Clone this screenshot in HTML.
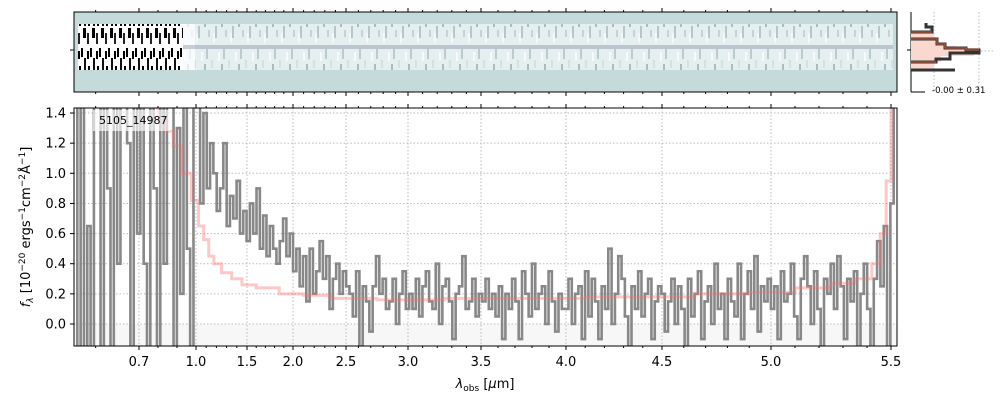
<!DOCTYPE html>
<html><head><meta charset="utf-8"><style>
body{margin:0;background:#fff;font-family:"Liberation Sans","DejaVu Sans",sans-serif}
svg text{font-family:"DejaVu Sans","Liberation Sans",sans-serif}
</style></head><body>
<svg id="c" width="1000" height="400" xmlns="http://www.w3.org/2000/svg">
<defs>
<clipPath id="cp"><rect x="74" y="108" width="823" height="238"/></clipPath>
<pattern id="noise" width="17" height="46" patternUnits="userSpaceOnUse">
<rect width="17" height="46" fill="#e6eff0"/>
<rect x="2" y="3" width="2" height="10" fill="#b9ccd0"/><rect x="7" y="14" width="2" height="8" fill="#d3e1e3"/>
<rect x="11" y="26" width="2" height="12" fill="#b4c7cc"/><rect x="14" y="6" width="2" height="9" fill="#f7fafa"/>
<rect x="4" y="30" width="2" height="7" fill="#c3d4d7"/><rect x="9" y="33" width="2" height="10" fill="#f5f8f8"/>
<rect x="0" y="18" width="2" height="9" fill="#a9bec3"/>
</pattern>
<pattern id="noise2" width="9" height="46" patternUnits="userSpaceOnUse">
<rect width="9" height="46" fill="#fff"/>
<rect x="0" y="2" width="2" height="9" fill="#000"/><rect x="3" y="12" width="2" height="14" fill="#111"/>
<rect x="6" y="5" width="2" height="8" fill="#000"/><rect x="2" y="28" width="3" height="10" fill="#000"/>
<rect x="6" y="33" width="2" height="11" fill="#222"/><rect x="7" y="20" width="2" height="6" fill="#000"/>
</pattern>
</defs>
<rect x="74" y="12" width="823" height="80" fill="#c5dbdb" stroke="#000"/>
<rect x="78" y="24" width="815" height="46" fill="url(#noise)"/>
<rect x="78" y="24" width="105" height="46" fill="url(#noise2)"/>
<rect x="183" y="24" width="12" height="46" fill="#fff" opacity="0.7"/>
<rect x="183" y="45" width="710" height="4" fill="#6a7a8e" opacity="0.35"/>
<line x1="70" y1="50" x2="74" y2="50" stroke="#000"/>
<g id="topticks"></g>
<g>
<line x1="911" y1="12" x2="911" y2="92" stroke="#000"/>
<line x1="911" y1="92" x2="925" y2="92" stroke="#000"/>
<line x1="907" y1="50" x2="911" y2="50" stroke="#000"/>
<line x1="934" y1="12" x2="934" y2="92" stroke="#bbb" stroke-dasharray="1.5,2"/>
<line x1="979" y1="12" x2="979" y2="92" stroke="#bbb" stroke-dasharray="1.5,2"/>
<line x1="911" y1="51" x2="993" y2="51" stroke="#bbb" stroke-dasharray="1.5,2"/>
<path d="M911,32 L929,32 L929,27 L934,27 L934,42 L937,42 L937,46 L957,46 L957,48 L979,48 L979,53 L974,53 L974,56 L941,56 L941,62 L934,62 L934,70 L911,70 Z" fill="#fbd8cf" stroke="none"/>
<path d="M926,23 L926,27 L932,27 L932,32 L911,32 M911,39 L937,39 L937,44 L945,44 L945,48 L966,48 L966,50 L979,50 L979,53 L950,53 L950,59 L936,59 L936,62 L911,62 M911,70 L955,70" fill="none" stroke="#333" stroke-width="3"/>
<path d="M911,32 L932,32 M911,39 L937,39 L937,44 L945,44 L945,48 L966,48 L966,50 L979,50 M911,62 L936,62" fill="none" stroke="#b5593a" stroke-width="1.3"/>
<text x="932" y="93" font-size="8.5">-0.00 ± 0.31</text>
</g>
<rect x="74" y="324" width="823" height="22" fill="#f7f7f7"/>
<g id="grid"></g>
<g clip-path="url(#cp)">
<path id="obs" fill="none" stroke="#888" stroke-width="2.6"/>
<path id="mod" fill="none" stroke="rgba(255,110,110,0.38)" stroke-width="3"/>
</g>
<rect x="93" y="110" width="78" height="21" fill="rgba(255,255,255,0.65)"/>
<text x="99" y="124" font-size="11">5105_14987</text>
<rect x="74" y="108" width="823" height="238" fill="none" stroke="#000"/>
<g id="axes"></g>
<text x="485" y="388" font-size="13" text-anchor="middle"><tspan font-style="italic">λ</tspan><tspan font-size="9" dy="3">obs</tspan><tspan dy="-3"> [</tspan><tspan font-style="italic">μ</tspan>m]</text>
<text transform="translate(30,227) rotate(-90)" font-size="13" text-anchor="middle"><tspan font-style="italic">f</tspan><tspan font-size="9" dy="3" font-style="italic">λ</tspan><tspan dy="-3"> [10</tspan><tspan font-size="9" dy="-5">−20</tspan><tspan dy="5"> ergs</tspan><tspan font-size="9" dy="-5">−1</tspan><tspan dy="5">cm</tspan><tspan font-size="9" dy="-5">−2</tspan><tspan dy="5">Å</tspan><tspan font-size="9" dy="-5">−1</tspan><tspan dy="5">]</tspan></text>
</svg>
<script>
const xTicks=[0.7,1.0,1.5,2.0,2.5,3.0,3.5,4.0,4.5,5.0,5.5];
const xTickLabels=["0.7","1.0","1.5","2.0","2.5","3.0","3.5","4.0","4.5","5.0","5.5"];
const yTicks=[0,0.2,0.4,0.6,0.8,1.0,1.2,1.4];
const yTickLabels=["0.0","0.2","0.4","0.6","0.8","1.0","1.2","1.4"];
const obsFlux=[
1.5,-0.3,1.5,-0.3,0.65,-0.3,1.5,1.5,-0.3,1.5,0.9,-0.3,1.5,0.4,1.5,1.5,1.2,-0.3,1.5,0.6,1.5,0.4,-0.3,1.5,0.9,-0.3,1.5,0.4,1.5,1.5,-0.3,1.3,0.2,1.5,0.5,-0.3,1.5,
1.5,0.8,1.4,0.9,1.2,1.0,0.75,0.9,1.2,0.65,0.85,0.7,0.95,0.6,0.75,
0.55,0.8,0.6,0.9,0.5,0.72,0.45,0.65,0.5,0.4,0.55,0.7,0.45,0.6,
0.35,0.5,0.25,0.45,0.15,0.5,0.2,0.35,0.55,0.3,0.45,0.1,0.3,0.4,0.2,0.35,
0.25,0.2,0.05,0.35,-0.15,0.25,0.15,-0.05,0.25,0.45,0.2,0.3,0.1,0.15,0.3,0.0,0.2,0.35,0.1,
0.2,0.1,0.3,0.05,0.25,0.35,0.15,0.1,0.4,0.0,0.25,0.3,0.15,-0.1,0.2,0.25,0.45,0.1,0.15,0.3,0.05,0.2,
0.15,0.3,0.1,0.2,0.05,0.25,-0.1,0.2,0.1,0.3,0.15,-0.1,0.35,0.2,0.05,0.4,0.1,0.2,0.25,0.0,0.35,0.15,-0.05,0.2,0.1,
0.1,0.3,0.0,0.2,0.25,-0.1,0.35,0.05,0.3,0.15,-0.1,0.25,0.1,0.5,0.0,0.2,0.45,0.3,0.05,-0.15,0.25,0.1,0.35,0.05,0.2,0.3,-0.1,0.15,0.25,
0.2,-0.05,0.15,0.3,0.0,0.25,0.1,-0.15,0.3,0.05,0.2,0.35,-0.1,0.15,0.25,0.0,0.4,0.1,0.2,-0.1,0.3,0.15,0.05,0.4,-0.1,0.2,0.35,0.1,0.45,-0.05,0.25,0.15,0.3,
0.1,0.25,-0.1,0.35,0.15,0.2,0.4,0.05,-0.1,0.3,0.45,0.25,0.0,0.35,0.1,-0.15,0.3,0.2,0.4,0.1,0.45,0.25,-0.1,0.3,0.15,0.35,-0.2,0.2,0.4,0.1,-0.2,0.3,0.55,0.25,0.65,-0.2,0.8,1.5];
const modelWave=[0.78,0.82,0.86,0.9,0.95,1.0,1.05,1.1,1.15,1.2,1.3,1.4,1.5,1.7,2.0,2.2,2.5,3.0,3.5,4.0,4.2,4.5,4.8,5.0,5.2,5.3,5.4,5.44,5.47,5.49,5.51];
const modelFlux=[1.45,1.35,1.28,1.18,1.0,0.82,0.65,0.56,0.45,0.4,0.34,0.3,0.26,0.24,0.2,0.19,0.17,0.16,0.17,0.17,0.18,0.18,0.2,0.21,0.24,0.27,0.3,0.4,0.6,0.95,1.6];
const xEdge=[0.55,0.7,1.0,1.5,2.0,2.5,3.0,3.5,4.0,4.5,5.0,5.5,5.52];
const pEdge=[74,139,196,247,293,346,408,481,566,662,771,891,897];
function X(w){for(let i=0;i<xEdge.length-1;i++){if(w<=xEdge[i+1]||i==xEdge.length-2){const t=(w-xEdge[i])/(xEdge[i+1]-xEdge[i]);return pEdge[i]+t*(pEdge[i+1]-pEdge[i]);}}}
function Xinv(p){for(let i=0;i<pEdge.length-1;i++){if(p<=pEdge[i+1]||i==pEdge.length-2){const t=(p-pEdge[i])/(pEdge[i+1]-pEdge[i]);return xEdge[i]+t*(xEdge[i+1]-xEdge[i]);}}}
function Y(v){return 324-v*150.7;}
const NS="http://www.w3.org/2000/svg";
function mk(tag,attrs,parent){const e=document.createElementNS(NS,tag);for(const k in attrs)e.setAttribute(k,attrs[k]);parent.appendChild(e);return e;}
const grid=document.getElementById('grid'),axes=document.getElementById('axes'),tt=document.getElementById('topticks');
xTicks.forEach((w,i)=>{const x=X(w);
 const g=mk('line',{x1:x,y1:108,x2:x,y2:346,stroke:'#bbb','stroke-dasharray':'1.5,2'},grid);
 
 
 mk('line',{x1:x,y1:346,x2:x,y2:350,stroke:'#000'},axes);
 mk('line',{x1:x,y1:104,x2:x,y2:108,stroke:'#000'},axes);
 mk('line',{x1:x,y1:8,x2:x,y2:12,stroke:'#000'},tt);
 mk('line',{x1:x,y1:92,x2:x,y2:96,stroke:'#000'},tt);
 const t=mk('text',{x:x,y:366,'font-size':13,'text-anchor':'middle'},axes);t.textContent=xTickLabels[i];
 
 
});
for(let w=0.6;w<5.5;w+=0.1){if(Math.abs(w*2-Math.round(w*2))<0.01||Math.abs(w-0.7)<0.01)continue;const x=X(w);
 mk('line',{x1:x,y1:346,x2:x,y2:348,stroke:'#000'},axes);mk('line',{x1:x,y1:106,x2:x,y2:108,stroke:'#000'},axes);
 mk('line',{x1:x,y1:10,x2:x,y2:12,stroke:'#000'},tt);mk('line',{x1:x,y1:92,x2:x,y2:94,stroke:'#000'},tt);}
yTicks.forEach((v,i)=>{const y=Y(v);
 const g=mk('line',{x1:74,y1:y,x2:897,y2:y,stroke:'#bbb','stroke-dasharray':'1.5,2'},grid);
 
 
 mk('line',{x1:70,y1:y,x2:74,y2:y,stroke:'#000'},axes);
 const t=mk('text',{x:66,y:y+4.5,'font-size':13,'text-anchor':'end'},axes);t.textContent=yTickLabels[i];
 
 
});
const n=obsFlux.length,bw=(897-74)/n;
const obsWave=obsFlux.map((_,i)=>Xinv(74+(i+0.5)*bw));
let d='';obsFlux.forEach((v,i)=>{const xc=X(obsWave[i]);const x0=xc-bw/2,x1=xc+bw/2,y=Y(v);d+=(i?'L':'M')+x0+','+y+'L'+x1+','+y;});
document.getElementById('obs').setAttribute('d',d);
let m='';modelWave.forEach((w,i)=>{const x0=X(i?(modelWave[i-1]+w)/2:w),x1=X(i<modelWave.length-1?(w+modelWave[i+1])/2:w),y=Y(modelFlux[i]);m+=(i?'L':'M')+x0+','+y+'L'+x1+','+y;});
document.getElementById('mod').setAttribute('d',m);
</script>
</body></html>
